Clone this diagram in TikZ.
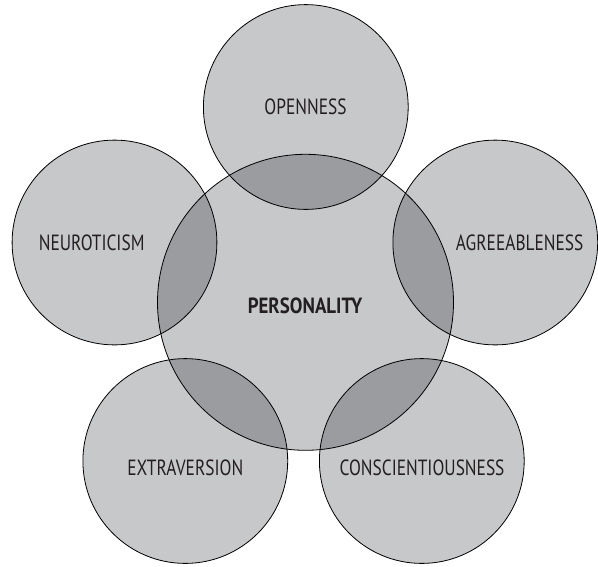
\documentclass[tikz,border=0pt]{standalone}
\usepackage{fontspec}
\newfontfamily\lblfont{PT Sans}[FakeStretch=0.79]
\newfontfamily\boldlblfont{PT Sans}[FakeStretch=0.86]
\definecolor{lightfill}{HTML}{C7C8CA}
\definecolor{darkfill}{HTML}{9B9CA0}
\definecolor{inkcol}{HTML}{231F20}
\begin{document}
\begin{tikzpicture}[x=1pt,y=-1pt,
  circ/.style={circle,inner sep=0pt,outer sep=0pt},
  lbl/.style={inner sep=0pt,text=inkcol,font=\lblfont\fontsize{22}{22}\selectfont},
  boldlbl/.style={inner sep=0pt,text=inkcol,font=\boldlblfont\bfseries\fontsize{22}{22}\selectfont},
  outline/.style={draw=black,line width=0.8pt}]
\useasboundingbox (0,0) rectangle (598,566);
% circle centres
\node[circ] (P) at (305.5,302.3) {};
\node[circ] (O) at (305.8,107) {};
\node[circ] (N) at (114.5,242.5) {};
\node[circ] (A) at (495.3,242.5) {};
\node[circ] (E) at (185.3,461) {};
\node[circ] (C) at (421.8,461) {};
% base fills
\fill[lightfill] (P.center) circle (148pt);
\foreach \n in {O,N,A,E,C} \fill[lightfill] (\n.center) circle (102.4pt);
% overlaps
\begin{scope}
  \clip (P.center) circle (148pt);
  \foreach \n in {O,N,A,E,C} \fill[darkfill] (\n.center) circle (102.4pt);
\end{scope}
% outlines
\draw[outline] (P.center) circle (148pt);
\foreach \n in {O,N,A,E,C} \draw[outline] (\n.center) circle (102.4pt);
% labels
\node[lbl] (tO) at (305.5,107) {OPENNESS};
\node[lbl] (tN) at (91.7,243) {NEUROTICISM};
\node[lbl] (tA) at (519.7,243) {AGREEABLENESS};
\node[lbl] (tE) at (185.3,468) {EXTRAVERSION};
\node[lbl] (tC) at (422,468) {CONSCIENTIOUSNESS};
\node[boldlbl] (tP) at (305,306) {PERSONALITY};
\end{tikzpicture}
\end{document}
